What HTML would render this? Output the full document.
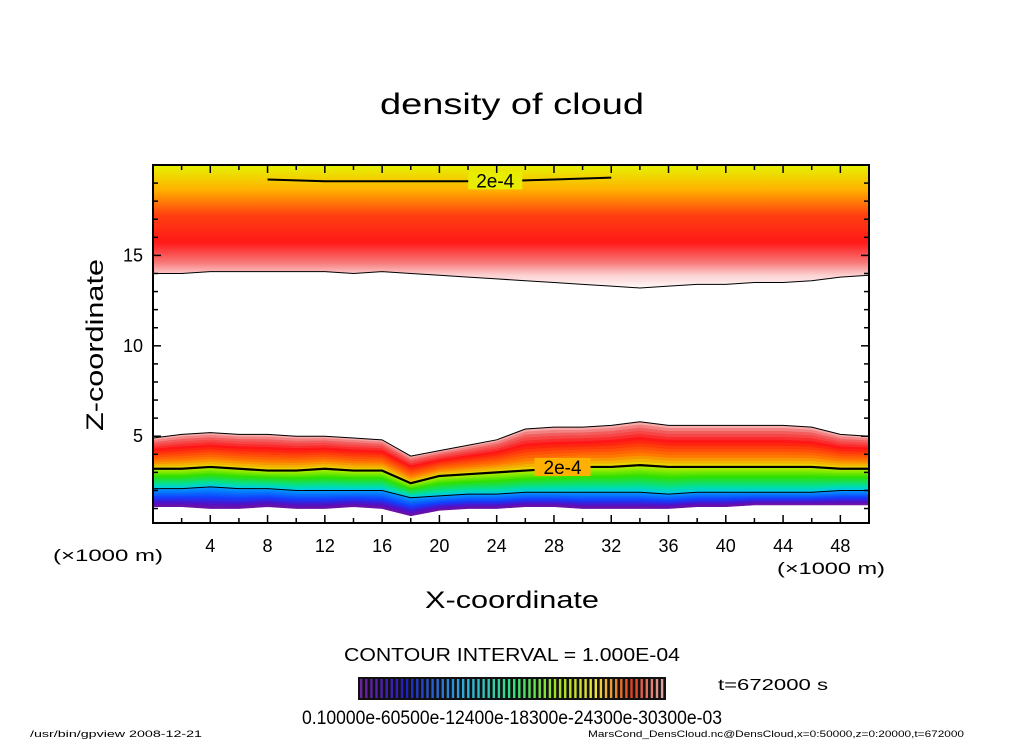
<!DOCTYPE html>
<html><head><meta charset="utf-8"><style>
body{margin:0;background:#fff;width:1024px;height:741px;overflow:hidden;font-family:"Liberation Sans",sans-serif}
svg{display:block}
</style></head><body>
<svg id="chart" width="1024" height="741">
<defs>
<linearGradient id="ug" gradientUnits="userSpaceOnUse" x1="0" y1="165" x2="0" y2="290">
<stop offset="0" stop-color="#e4f400"/><stop offset="0.2" stop-color="#ffb000"/><stop offset="0.4" stop-color="#ff4010"/>
<stop offset="0.62" stop-color="#ff1818"/><stop offset="0.78" stop-color="#f87878"/><stop offset="0.88" stop-color="#fcd0d0"/><stop offset="1" stop-color="#ffffff"/>
</linearGradient>
</defs>
<text x="512" y="114" font-size="30" text-anchor="middle" textLength="264" lengthAdjust="spacingAndGlyphs">density of cloud</text>
<g id="plot"></g>
<text transform="translate(103,345) rotate(-90)" font-size="24" text-anchor="middle" textLength="172" lengthAdjust="spacingAndGlyphs">Z-coordinate</text>
<text x="53" y="561" font-size="17" textLength="110" lengthAdjust="spacingAndGlyphs">(×1000 m)</text>
<text x="777" y="574" font-size="17" textLength="108" lengthAdjust="spacingAndGlyphs">(×1000 m)</text>
<text x="512" y="608" font-size="24" text-anchor="middle" textLength="174" lengthAdjust="spacingAndGlyphs">X-coordinate</text>
<text x="512" y="661" font-size="18" text-anchor="middle" textLength="336" lengthAdjust="spacingAndGlyphs">CONTOUR INTERVAL = 1.000E-04</text>
<g id="cbar"></g>
<text x="512" y="724" font-size="19" text-anchor="middle" textLength="420" lengthAdjust="spacingAndGlyphs">0.10000e-60500e-12400e-18300e-24300e-30300e-03</text>
<text x="718" y="690" font-size="16" textLength="110" lengthAdjust="spacingAndGlyphs">t=672000 s</text>
<text x="30" y="737" font-size="9" textLength="172" lengthAdjust="spacingAndGlyphs">/usr/bin/gpview   2008-12-21</text>
<text x="588" y="737" font-size="9" textLength="376" lengthAdjust="spacingAndGlyphs">MarsCond_DensCloud.nc@DensCloud,x=0:50000,z=0:20000,t=672000</text>
</svg>
<script>
const xs=[0,2,4,6,8,10,12,14,16,18,20,22,24,26,28,30,32,34,36,38,40,42,44,46,48,50];
const topZ=[4.9,5.1,5.2,5.1,5.1,5.0,5.0,4.9,4.8,3.9,4.2,4.5,4.8,5.4,5.5,5.5,5.6,5.8,5.6,5.6,5.6,5.6,5.6,5.5,5.1,5.0];
const midZ=[3.2,3.2,3.3,3.2,3.1,3.1,3.2,3.1,3.1,2.4,2.8,2.9,3.0,3.1,3.2,3.3,3.3,3.4,3.3,3.3,3.3,3.3,3.3,3.3,3.2,3.2];
const lowZ=[2.1,2.1,2.2,2.1,2.1,2.0,2.0,2.0,2.0,1.6,1.7,1.8,1.8,1.9,1.9,1.9,1.9,1.9,1.8,1.9,1.9,1.9,1.9,1.9,2.0,2.0];
const botZ=[1.1,1.1,1.0,1.0,1.1,1.0,1.0,1.1,1.0,0.6,0.9,1.0,1.0,1.1,1.1,1.0,1.0,1.0,1.0,1.1,1.1,1.2,1.2,1.2,1.2,1.2];
const upperEdgeZ=[14.0,14.0,14.1,14.1,14.1,14.1,14.1,14.0,14.1,14.0,13.9,13.8,13.7,13.6,13.5,13.4,13.3,13.2,13.3,13.4,13.4,13.5,13.5,13.6,13.8,13.9];
const upperContourX=[8,12,16,20,24,28,32];
const upperContourZ=[19.2,19.1,19.1,19.1,19.1,19.2,19.3];
const xTicks=[4,8,12,16,20,24,28,32,36,40,44,48];
const zTicks=[5,10,15];
const NS="http://www.w3.org/2000/svg";
const L=153,R=869,T=165,B=523;
const sx=x=>L+(R-L)*x/50, sz=z=>B-(B-T)*(z-0.2)/19.8;
const plot=document.getElementById('plot');
function mk(tag,attrs,parent){const e=document.createElementNS(NS,tag);for(const k in attrs)e.setAttribute(k,attrs[k]);(parent||plot).appendChild(e);return e;}
function lerpC(a,b,t){const p=s=>[1,3,5].map(i=>parseInt(s.substr(i,2),16));const A=p(a),B2=p(b);return 'rgb('+A.map((v,i)=>Math.round(v+(B2[i]-v)*t)).join(',')+')';}
function ramp(stops,t){for(let i=1;i<stops.length;i++){if(t<=stops[i][0]){const s=stops[i-1],e=stops[i];return lerpC(s[1],e[1],(t-s[0])/(e[0]-s[0]));}}return stops[stops.length-1][1];}
let pts=xs.map((x,i)=>sx(x)+','+sz(upperEdgeZ[i]));
const ub=mk('polygon',{points:sx(0)+','+T+' '+pts.join(' ')+' '+sx(50)+','+T,fill:'url(#ug)'});


const segs=[[topZ,midZ,[[0,'#f8c0c0'],[0.15,'#f06868'],[0.4,'#ff1414'],[0.75,'#ff7800'],[1,'#e8e000']]],
[midZ,lowZ,[[0,'#c8f000'],[0.4,'#30e000'],[0.8,'#00e0a0'],[1,'#00c8f0']]],
[lowZ,botZ,[[0,'#00a0ff'],[0.5,'#1040ff'],[0.8,'#5010c8'],[1,'#7010a0']]]];
const N=14;
segs.forEach(([a,b,st])=>{for(let k=0;k<N;k++){const t0=k/N,t1=(k+1)/N;
const up=xs.map((x,i)=>sx(x)+','+sz(a[i]+(b[i]-a[i])*t0));
const dn=xs.map((x,i)=>sx(x)+','+sz(a[i]+(b[i]-a[i])*t1)).reverse();
const s=mk('polygon',{points:up.concat(dn).join(' '),fill:ramp(st,(t0+t1)/2),stroke:ramp(st,(t0+t1)/2),'stroke-width':0.6});

}});
function line(zs,w,name,xa){const p=(xa||xs).map((x,i)=>sx(x)+','+sz(zs[i])).join(' ');const e=mk('polyline',{points:p,fill:'none',stroke:'#000','stroke-width':w});

}
line(upperEdgeZ,1,'contour-upper-edge');line(topZ,1,'contour-lower-top');line(midZ,2.2,'contour-2e-4');line(lowZ,1,'contour-low');
line(upperContourZ,2,'contour-upper-2e-4',upperContourX);
const bg0=mk('rect',{x:sx(28.6)-28,y:sz(3.3)-9,width:56,height:18,fill:'#ffb000'});


const lb1=mk('text',{x:sx(28.6),y:sz(3.3)+7,'font-size':19,'text-anchor':'middle'});lb1.textContent='2e-4';


const bg1=mk('rect',{x:sx(23.9)-27,y:sz(19.15)-9,width:54,height:18,fill:'#e8ec00'});


const lb2=mk('text',{x:sx(23.9),y:sz(19.15)+7,'font-size':19,'text-anchor':'middle'});lb2.textContent='2e-4';


const fr=mk('rect',{x:L,y:T,width:R-L,height:B-T,fill:'none',stroke:'#000','stroke-width':2});


for(let x=2;x<50;x+=2){const big=x%4===0,len=big?8:5;
mk('line',{x1:sx(x),x2:sx(x),y1:B,y2:B-len,stroke:'#000','stroke-width':1.5});
mk('line',{x1:sx(x),x2:sx(x),y1:T,y2:T+len,stroke:'#000','stroke-width':1.5});}
for(let z=1;z<20;z++){const big=z%5===0,len=big?8:5;
mk('line',{x1:L,x2:L+len,y1:sz(z),y2:sz(z),stroke:'#000','stroke-width':1.5});
mk('line',{x1:R,x2:R-len,y1:sz(z),y2:sz(z),stroke:'#000','stroke-width':1.5});}
xTicks.forEach(x=>{const t=mk('text',{x:sx(x),y:552,'font-size':18,'text-anchor':'middle'});t.textContent=x;

});
zTicks.forEach(z=>{const t=mk('text',{x:143,y:sz(z)+6,'font-size':18,'text-anchor':'end'});t.textContent=z;

});
const cb=document.getElementById('cbar');
mk('rect',{x:358,y:677,width:308,height:23,fill:'#111'},cb);
const cst=[[0,'#7020a0'],[0.15,'#2020c0'],[0.35,'#30b0e0'],[0.5,'#30e080'],[0.65,'#a0e020'],[0.78,'#f0e040'],[0.9,'#e04020'],[1,'#e0a0a0']];
for(let i=0;i<60;i++){mk('rect',{x:360+i*5.1,y:679,width:2.4,height:19,fill:ramp(cst,i/59)},cb);}
</script>
</body></html>
